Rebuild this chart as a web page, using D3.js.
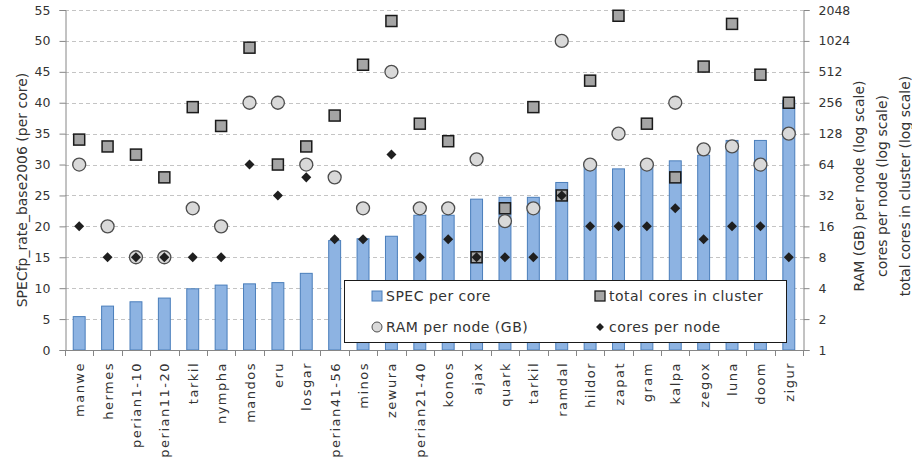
<!DOCTYPE html>
<html>
<head>
<meta charset="utf-8">
<script src="https://cdn.jsdelivr.net/npm/d3@7"></script>
<style>
  body { margin: 0; background: #fff; }
  svg { display: block; }
  text { font-family: "DejaVu Sans", sans-serif; fill: #333; }
</style>
</head>
<body>
<svg id="chart" width="912" height="458"></svg>
<script>
// Cluster names along the x axis (tarkil is listed twice on purpose)
const clusters = ["manwe", "hermes", "perian1-10", "perian11-20", "tarkil", "nympha",
  "mandos", "eru", "losgar", "perian41-56", "minos", "zewura", "perian21-40", "konos",
  "ajax", "quark", "tarkil", "ramdal", "hildor", "zapat", "gram", "kalpa", "zegox",
  "luna", "doom", "zigur"];

// SPECfp_rate_base2006 per core (left axis)
const specPerCore = [5.4, 7.1, 7.8, 8.4, 9.9, 10.5, 10.7, 10.9, 12.4, 17.7, 18.0, 18.4,
  21.8, 21.8, 24.4, 24.7, 24.7, 27.1, 29.8, 29.3, 29.7, 30.6, 31.5, 33.9, 33.9, 40.4];

// Right axis (log2) series
const totalCores = [112, 96, 80, 48, 232, 152, 880, 64, 96, 192, 600, 1600,
  160, 108, 8, 24, 232, 32, 420, 1800, 160, 48, 576, 1500, 480, 256];
const ramPerNode = [64, 16, 8, 8, 24, 16, 256, 256, 64, 48, 24, 512,
  24, 24, 72, 18, 24, 1024, 64, 128, 64, 256, 90, 96, 64, 128];
const coresPerNode = [16, 8, 8, 8, 8, 8, 64, 32, 48, 12, 12, 80,
  8, 12, 8, 8, 8, 32, 16, 16, 16, 24, 12, 16, 16, 8];

const leftTicks = [0, 5, 10, 15, 20, 25, 30, 35, 40, 45, 50, 55];
const rightTicks = [1, 2, 4, 8, 16, 32, 64, 128, 256, 512, 1024, 2048];

const legendItems = [
  { label: "SPEC per core", kind: "bar" },
  { label: "total cores in cluster", kind: "square" },
  { label: "RAM per node (GB)", kind: "circle" },
  { label: "cores per node", kind: "diamond" }
];

const svg = d3.select("#chart");
const plot = { left: 65, right: 803, top: 10, bottom: 350 };

const x = d3.scaleBand()
  .domain(d3.range(clusters.length))
  .range([plot.left, plot.right]);
const yL = d3.scaleLinear().domain([0, 55]).range([plot.bottom, plot.top]);
const yR = d3.scaleLog().base(2).domain([1, 2048]).range([plot.bottom, plot.top]);

const axisColor = "#868686";
const barW = x.bandwidth() * 0.42;
const cx = i => x(i) + x.bandwidth() / 2;

// dashed gridlines
svg.append("g")
  .selectAll("line")
  .data(leftTicks.filter(d => d > 0))
  .join("line")
  .attr("x1", plot.left).attr("x2", plot.right)
  .attr("y1", d => Math.round(yL(d)) + 0.5).attr("y2", d => Math.round(yL(d)) + 0.5)
  .attr("stroke", "#c4c4c4").attr("stroke-dasharray", "4,3");

// bars
svg.append("g")
  .selectAll("rect")
  .data(specPerCore)
  .join("rect")
  .attr("x", (d, i) => cx(i) - barW / 2)
  .attr("y", d => yL(d))
  .attr("width", barW)
  .attr("height", d => yL(0) - yL(d))
  .attr("fill", "#8db3e2").attr("stroke", "#4a7ebb").attr("stroke-width", 1);

// axes
const leftAxis = d3.axisLeft(yL).tickValues(leftTicks).tickSize(6).tickPadding(9);
const gl = svg.append("g").attr("transform", `translate(${plot.left + 0.5},0)`).call(leftAxis);
const rightAxis = d3.axisRight(yR).tickValues(rightTicks).tickSize(6).tickPadding(9)
  .tickFormat(d3.format("d"));
const gr = svg.append("g").attr("transform", `translate(${plot.right + 0.5},0)`).call(rightAxis);
[gl, gr].forEach(g => {
  g.select(".domain").attr("stroke", axisColor);
  g.selectAll(".tick line").attr("stroke", axisColor);
  g.selectAll(".tick text").style("font-size", "12.5px").attr("fill", "#333");
});

// bottom axis with ticks at category boundaries
const gb = svg.append("g");
gb.append("line")
  .attr("x1", plot.left).attr("x2", plot.right + 1)
  .attr("y1", plot.bottom + 0.5).attr("y2", plot.bottom + 0.5)
  .attr("stroke", axisColor);
gb.selectAll("line.tk")
  .data(d3.range(clusters.length + 1))
  .join("line").attr("class", "tk")
  .attr("x1", i => Math.round(plot.left + i * x.step()) + 0.5)
  .attr("x2", i => Math.round(plot.left + i * x.step()) + 0.5)
  .attr("y1", plot.bottom).attr("y2", plot.bottom + 6)
  .attr("stroke", axisColor);
gb.selectAll("text")
  .data(clusters)
  .join("text")
  .attr("transform", (d, i) => `translate(${cx(i) + 5},362) rotate(-90)`)
  .attr("text-anchor", "end")
  .style("font-size", "13px")
  .style("letter-spacing", "1.5px")
  .text(d => d);

// total cores in cluster: squares
const sq = 11;
svg.append("g")
  .selectAll("rect")
  .data(totalCores)
  .join("rect")
  .attr("x", (d, i) => cx(i) - sq / 2)
  .attr("y", d => yR(d) - sq / 2)
  .attr("width", sq).attr("height", sq)
  .attr("fill", "#a5a5a5").attr("stroke", "#1a1a1a").attr("stroke-width", 1.5);

// RAM per node: circles
svg.append("g")
  .selectAll("circle")
  .data(ramPerNode)
  .join("circle")
  .attr("cx", (d, i) => cx(i))
  .attr("cy", d => yR(d))
  .attr("r", 6.5)
  .attr("fill", "#d9d9d9").attr("stroke", "#4d4d4d").attr("stroke-width", 1.3);

// cores per node: diamonds
const diamond = d3.symbol().type(d3.symbolDiamond2).size(64);
svg.append("g")
  .selectAll("path")
  .data(coresPerNode)
  .join("path")
  .attr("d", diamond)
  .attr("transform", (d, i) => `translate(${cx(i)},${yR(d)})`)
  .attr("fill", "#1f1f1f");

// legend
const lg = svg.append("g");
lg.append("rect")
  .attr("x", 344.5).attr("y", 280.5).attr("width", 442).attr("height", 62)
  .attr("fill", "#fff").attr("stroke", "#1a1a1a");
const legPos = [[377, 296], [600, 296], [377, 327], [600, 327]];
legendItems.forEach((it, k) => {
  const [mx, my] = legPos[k];
  const g = lg.append("g").attr("transform", `translate(${mx},${my})`);
  if (it.kind === "bar") {
    g.append("rect").attr("x", -5).attr("y", -5).attr("width", 10).attr("height", 10)
      .attr("fill", "#8db3e2").attr("stroke", "#4a7ebb");
  } else if (it.kind === "square") {
    g.append("rect").attr("x", -5).attr("y", -5).attr("width", 10).attr("height", 10)
      .attr("fill", "#a5a5a5").attr("stroke", "#1a1a1a").attr("stroke-width", 1.3);
  } else if (it.kind === "circle") {
    g.append("circle").attr("r", 5).attr("fill", "#d9d9d9").attr("stroke", "#4d4d4d");
  } else {
    g.append("path").attr("d", d3.symbol().type(d3.symbolDiamond2).size(40)).attr("fill", "#1f1f1f");
  }
  g.append("text").attr("x", 9).attr("dy", "0.36em")
    .style("font-size", "14px").style("letter-spacing", "0.5px").text(it.label);
});

// axis titles
svg.append("text")
  .attr("transform", "translate(22,190) rotate(-90)")
  .attr("text-anchor", "middle").attr("dy", "0.36em")
  .style("font-size", "14px")
  .text("SPECfp_rate_base2006 (per core)");
const rightTitles = ["RAM (GB) per node (log scale)", "cores per node (log scale)",
  "total cores in cluster (log scale)"];
svg.append("g")
  .selectAll("text")
  .data(rightTitles)
  .join("text")
  .attr("transform", (d, i) => `translate(${859 + i * 23},186) rotate(-90)`)
  .attr("text-anchor", "middle").attr("dy", "0.36em")
  .style("font-size", "14px")
  .text(d => d);
</script>
</body>
</html>
